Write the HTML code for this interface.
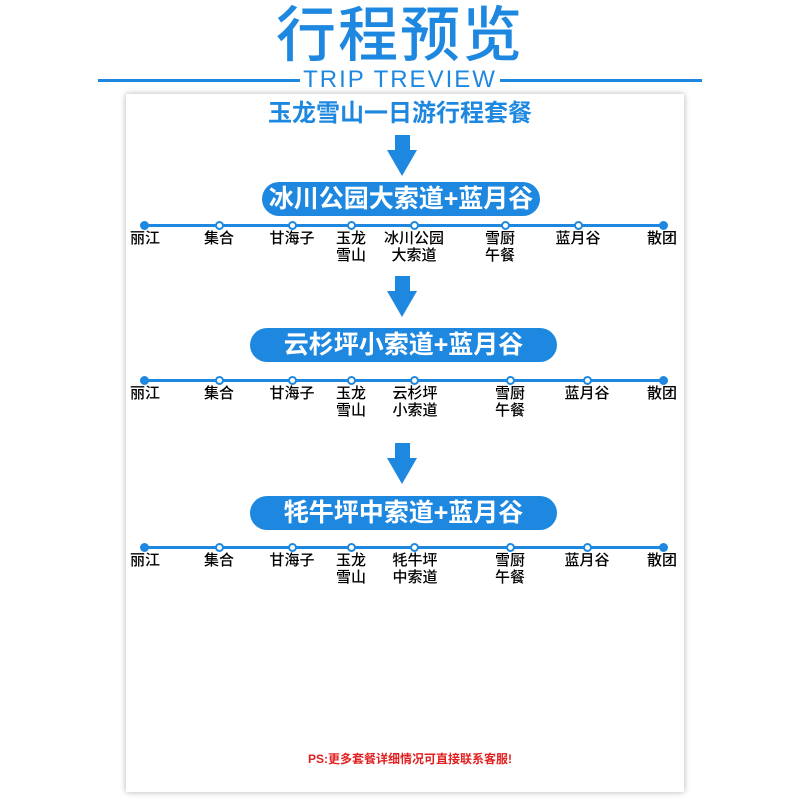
<!DOCTYPE html>
<html><head><meta charset="utf-8"><style>
*{margin:0;padding:0;box-sizing:border-box}
body{width:800px;height:800px;background:#fff;position:relative;overflow:hidden;font-family:"Liberation Sans","Noto Sans CJK SC",sans-serif}
.a{position:absolute}
.t{left:0;width:800px;text-align:center;color:#1e88e0}
.card{left:126px;top:94px;width:558px;height:698px;background:#fff;box-shadow:0 0 6px rgba(0,0,0,.3)}
.pill{background:#1e88e0;color:#fff;font-weight:bold;font-size:25px;text-align:center;border-radius:17px;height:34px;line-height:34px}
.line{left:144px;width:519px;height:3px;background:#1e88e0}
.n{width:9px;height:9px;border-radius:50%;background:#fff;border:2px solid #1e88e0;margin-left:-4.5px;margin-top:-4.5px}
.f{background:#1e88e0}
.l{font-size:15px;line-height:17px;color:#000;text-align:center;width:80px;margin-left:-40px;font-weight:500}
.sh{left:395px;width:15px;background:#1e88e0}
.tri{left:387px;width:0;height:0;border-left:15.5px solid transparent;border-right:15.5px solid transparent;border-top:26px solid #1e88e0}
</style></head><body>
<div class="a t" style="top:2px;font-size:60px;font-weight:500;line-height:68px;letter-spacing:2px">行程预览</div>
<div class="a" style="left:98px;top:79px;width:202px;height:3px;background:#1e88e0"></div>
<div class="a" style="left:500px;top:79px;width:202px;height:3px;background:#1e88e0"></div>
<div class="a t" style="top:67px;font-size:24px;line-height:26px;letter-spacing:2px">TRIP TREVIEW</div>
<div class="a card"></div>
<div class="a t" style="top:99px;font-size:24px;font-weight:bold;line-height:30px">玉龙雪山一日游行程套餐</div>

<div class="a sh" style="top:135px;height:16px"></div><div class="a tri" style="top:150px"></div>
<div class="a pill" style="left:262px;top:182px;width:278px">冰川公园大索道+蓝月谷</div>
<div class="a line" style="top:224px"></div>
<div class="a n f" style="left:144px;top:225px"></div><div class="a n" style="left:219px;top:225px"></div><div class="a n" style="left:292px;top:225px"></div><div class="a n" style="left:351px;top:225px"></div><div class="a n" style="left:414px;top:225px"></div><div class="a n" style="left:505px;top:225px"></div><div class="a n" style="left:578px;top:225px"></div><div class="a n f" style="left:663px;top:225px"></div>
<div class="a l" style="left:145px;top:230px">丽江</div><div class="a l" style="left:219px;top:230px">集合</div><div class="a l" style="left:292px;top:230px">甘海子</div><div class="a l" style="left:351px;top:230px">玉龙<br>雪山</div><div class="a l" style="left:414px;top:230px">冰川公园<br>大索道</div><div class="a l" style="left:500px;top:230px">雪厨<br>午餐</div><div class="a l" style="left:578px;top:230px">蓝月谷</div><div class="a l" style="left:662px;top:230px">散团</div>

<div class="a sh" style="top:276px;height:16px"></div><div class="a tri" style="top:291px"></div>
<div class="a pill" style="left:250px;top:328px;width:307px">云杉坪小索道+蓝月谷</div>
<div class="a line" style="top:379px"></div>
<div class="a n f" style="left:144px;top:380px"></div><div class="a n" style="left:219px;top:380px"></div><div class="a n" style="left:292px;top:380px"></div><div class="a n" style="left:351px;top:380px"></div><div class="a n" style="left:414px;top:380px"></div><div class="a n" style="left:510px;top:380px"></div><div class="a n" style="left:587px;top:380px"></div><div class="a n f" style="left:663px;top:380px"></div>
<div class="a l" style="left:145px;top:385px">丽江</div><div class="a l" style="left:219px;top:385px">集合</div><div class="a l" style="left:292px;top:385px">甘海子</div><div class="a l" style="left:351px;top:385px">玉龙<br>雪山</div><div class="a l" style="left:415px;top:385px">云杉坪<br>小索道</div><div class="a l" style="left:510px;top:385px">雪厨<br>午餐</div><div class="a l" style="left:587px;top:385px">蓝月谷</div><div class="a l" style="left:662px;top:385px">散团</div>

<div class="a sh" style="top:443px;height:16px"></div><div class="a tri" style="top:458px"></div>
<div class="a pill" style="left:250px;top:496px;width:307px">牦牛坪中索道+蓝月谷</div>
<div class="a line" style="top:546px"></div>
<div class="a n f" style="left:144px;top:547px"></div><div class="a n" style="left:219px;top:547px"></div><div class="a n" style="left:292px;top:547px"></div><div class="a n" style="left:351px;top:547px"></div><div class="a n" style="left:414px;top:547px"></div><div class="a n" style="left:510px;top:547px"></div><div class="a n" style="left:587px;top:547px"></div><div class="a n f" style="left:663px;top:547px"></div>
<div class="a l" style="left:145px;top:552px">丽江</div><div class="a l" style="left:219px;top:552px">集合</div><div class="a l" style="left:292px;top:552px">甘海子</div><div class="a l" style="left:351px;top:552px">玉龙<br>雪山</div><div class="a l" style="left:415px;top:552px">牦牛坪<br>中索道</div><div class="a l" style="left:510px;top:552px">雪厨<br>午餐</div><div class="a l" style="left:587px;top:552px">蓝月谷</div><div class="a l" style="left:662px;top:552px">散团</div>

<div class="a" style="left:0;width:820px;top:750px;text-align:center;color:#e02020;font-size:12px;font-weight:bold">PS:更多套餐详细情况可直接联系客服!</div>
</body></html>
